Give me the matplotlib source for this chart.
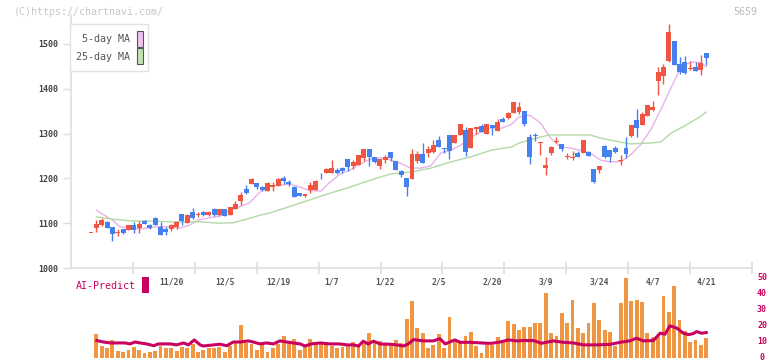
import matplotlib
matplotlib.use("Agg")
import matplotlib.pyplot as plt
from matplotlib.patches import Rectangle
import numpy as np

# ---------------- data ----------------
opens = [1079,1090,1096,1103,1091,1079,1087,1085,1096,1090,
         1105,1097,1112,1091,1087,1088,1091,1120,1101,1124,
         1119,1126,1118,1132,1118,1132,1118,1132,1149,1176,
         1187,1190,1181,1172,1181,1183,1201,1192,1181,1167,
         1161,1174,1174,1204,1212,1212,1219,1223,1243,1228,
         1230,1246,1266,1248,1228,1241,1259,1239,1217,1201,
         1199,1239,1255,1257,1259,1286,1268,1297,1279,1297,
         1308,1268,1310,1317,1299,1319,1306,1333,1335,1346,
         1348,1350,1292,1296,1280,1223,1257,1282,1277,1247,
         1245,1257,1257,1259,1221,1219,1272,1263,1268,1238,
         1268,1295,1330,1319,1339,1353,1417,1429,1462,1507,
         1455,1460,1445,1449,1442,1480]
highs = [1080,1107,1112,1105,1091,1086,1088,1096,1102,1105,
         1107,1098,1114,1103,1091,1098,1104,1121,1120,1133,
         1124,1127,1128,1134,1132,1132,1136,1149,1169,1186,
         1200,1190,1183,1192,1192,1200,1206,1196,1183,1167,
         1165,1192,1197,1212,1224,1241,1223,1226,1243,1241,
         1252,1266,1266,1248,1243,1252,1259,1239,1219,1201,
         1266,1261,1279,1272,1286,1295,1268,1297,1297,1322,
         1315,1313,1315,1321,1322,1319,1333,1337,1349,1371,
         1371,1350,1299,1301,1282,1248,1273,1292,1277,1257,
         1261,1261,1286,1261,1221,1228,1274,1263,1272,1252,
         1292,1319,1355,1348,1364,1373,1449,1456,1545,1507,
         1471,1473,1462,1460,1475,1480]
lows = [1080,1080,1094,1090,1061,1071,1075,1085,1079,1079,
        1098,1087,1095,1074,1074,1083,1088,1097,1101,1110,
        1113,1115,1115,1117,1117,1116,1118,1132,1141,1165,
        1187,1177,1171,1172,1172,1183,1187,1183,1158,1161,
        1158,1167,1174,1199,1212,1212,1210,1212,1217,1221,
        1230,1239,1228,1234,1221,1235,1239,1219,1203,1161,
        1199,1234,1234,1248,1257,1270,1257,1243,1279,1297,
        1250,1268,1299,1304,1299,1297,1306,1326,1333,1346,
        1343,1317,1232,1283,1252,1208,1252,1279,1261,1243,
        1241,1248,1257,1250,1190,1212,1246,1237,1257,1230,
        1246,1292,1292,1319,1339,1350,1386,1410,1460,1453,
        1433,1433,1443,1440,1431,1453]
closes = [1081,1098,1107,1090,1076,1081,1078,1095,1085,1098,
          1098,1090,1095,1074,1080,1097,1103,1105,1119,1112,
          1121,1118,1126,1118,1132,1117,1136,1143,1163,1167,
          1199,1181,1174,1190,1185,1199,1194,1187,1158,1161,
          1165,1185,1194,1202,1221,1223,1212,1217,1225,1237,
          1252,1266,1248,1237,1243,1248,1246,1219,1208,1181,
          1255,1255,1234,1266,1275,1270,1266,1261,1297,1322,
          1259,1313,1315,1304,1322,1312,1326,1326,1346,1371,
          1359,1321,1248,1294,1282,1230,1270,1284,1266,1249,
          1247,1248,1286,1250,1192,1228,1248,1248,1259,1240,
          1255,1319,1313,1344,1364,1359,1437,1449,1527,1453,
          1437,1435,1447,1440,1458,1469]

ma5_idx = [1,4,5.4,9,13,16.6,18.5,20,24,26,28,29.7,31.6,33.5,35.4,37.3,39,41,43,44.7,
           46.6,48.5,50.3,52.2,54,56,57.8,59.7,61.6,63.5,65.4,67.3,69.2,71,73,74.8,76.7,
           78.5,80,82,84,85.8,87.7,89.5,91.4,93.3,95.2,97,99,100.8,102.7,104.6,106.5,
           108.4,110.3,112.2,114,115]
ma5_val = [1129,1107,1092,1087,1093,1089,1096,1107,1116,1129,1138,1146,1170,1183,1185,1187,
           1181,1172,1172,1192,1210,1219,1232,1243,1246,1241,1234,1223,1223,1228,1257,1263,
           1275,1292,1304,1313,1312,1320,1337,1341,1324,1292,1270,1268,1263,1257,1241,1237,
           1237,1252,1275,1308,1353,1402,1449,1460,1458,1449]

ma25_idx = [1,4,7.5,11,15,20.4,24,26.6,29.7,31.6,33.5,37.3,40.9,44.7,48.5,52.2,56,59.7,
            63.5,67.3,71,74.8,78.6,80,83.9,85.8,93.3,95.2,98.9,100.8,104.6,106.5,108.4,
            110.3,112.2,114,115]
ma25_val = [1114,1109,1105,1105,1103,1103,1100,1101,1111,1118,1123,1138,1152,1167,1181,1196,
            1210,1214,1223,1237,1248,1263,1270,1279,1292,1297,1297,1290,1281,1277,1279,1281,
            1301,1313,1326,1339,1348]

volume = [0,15.3,7.5,6.3,11.3,4.6,3.8,5,6.9,5,
          3.1,3.8,4.4,7.5,6.3,6.3,4.4,6.9,6.3,8.8,
          3.8,5,6.3,6.3,6.9,3.8,7.5,9.4,20.8,9.4,
          8.8,5,8.1,3.8,6.3,8.8,13.8,10,11.9,5,
          7.5,11.9,9.4,8.8,8.8,7.5,6.3,6.9,8.8,10,
          6.9,10.7,15.9,10.7,10.7,8.8,8.8,11.3,9.4,24.5,
          35.8,18.9,15.7,6.3,8.2,15.1,6.3,25.8,11.3,9.4,
          13.8,16.4,7.5,3.1,8.2,8.2,13.2,11.3,23.3,21.4,
          17.6,19.5,19.5,22,22,40.9,15.7,13.8,28.3,22,
          36.5,18.9,15.7,22,34.6,23.9,17.6,16.4,7.5,34.6,
          49.7,35.8,36.5,35.2,15.7,13.2,13.2,39,28.9,44.7,
          23.9,17,10,11.3,8.2,12.6]

ai_idx = [1.1,2.3,3.6,6.4,7.3,8.2,9.2,10.4,11.7,12.6,14.8,16,17.3,18.2,19.3,20.4,21,22.9,
          24.1,25.4,26.6,27.9,29.4,30.3,31.6,32.8,34.1,35.3,36.6,37.8,39.1,40,41.2,42.8,
          44.7,46.5,47.8,49,50,50.9,51.8,52.8,54,55.9,57.1,58.4,59.3,60.3,62.1,64,65.2,
          66.2,68,69,70.8,72.1,74,74.9,76.5,78,79.6,80.8,82.7,84.2,86.4,88.3,90.2,92,
          94.5,97,98.9,100.7,102,103.2,105.1,106.4,107.3,108.2,109.5,110.7,111.7,112.6,
          113.2,114.1,115]
ai_val = [10.9,10,9.4,9.4,8.8,10,9.4,8.8,7.7,8.8,8.8,8.2,9.4,8.2,11.3,8.2,7.5,8.2,
          8.6,7.7,10,10,10.7,10,8.8,9.4,8.8,10.7,10,9.4,8.8,7.5,8.8,9.4,
          8.8,8.8,8.2,8.2,7.5,10.5,8.8,10.5,8.8,8.6,8.2,7.5,8.8,11.5,10.7,10.7,12.1,
          8.8,11.3,9.8,9.8,9.6,9.2,9.2,10,11.3,10.7,10.9,10.9,9.2,10.7,9.8,9.4,8.2,
          8.2,8.5,9.8,10.7,12.4,10.7,10.9,15.5,14.9,20.1,18.7,15.5,14.6,15.3,
          16.5,15.5,15.9]

date_idx = [15,25,35,45,55,65,75,85,95,105,115]
date_labels = ["11/20","12/5","12/19","1/7","1/22","2/5","2/20","3/9","3/24","4/7","4/21"]
price_ticks = [1000,1100,1200,1300,1400,1500]
vol_ticks = [0,10,20,30,40,50]

# ---------------- style ----------------
W, H = 772, 361
UP = "#f05541"
DOWN = "#4581ee"
GRID = "#dedede"
MAG = "#c8005f"
MONO = "DejaVu Sans Mono"

fig = plt.figure(figsize=(W/100, H/100), dpi=100)
fig.patch.set_facecolor("white")

def fx(px): return px / W
def fy(py): return 1 - py / H

ax = fig.add_axes([fx(71), fy(268), fx(752) - fx(71), fy(15) - fy(268)])
n = len(closes)
x = np.arange(n)
ax.set_xlim(-3.74, 123.55)
ax.set_ylim(1000, 1564.7)

# candles
for i in range(n):
    o, h, l, c = opens[i], highs[i], lows[i], closes[i]
    col = UP if c >= o else DOWN
    ax.vlines(x[i], l, h, color=col, linewidth=1.0, zorder=3)
    b = min(o, c)
    hh = max(abs(c - o), 1.8)
    ax.bar(x[i], hh, bottom=b, width=0.92, color=col, linewidth=0, zorder=4)

ax.plot(ma5_idx, ma5_val, color="#e8b2ea", linewidth=1.0, zorder=2)
ax.plot(ma25_idx, ma25_val, color="#b3d9a6", linewidth=1.0, zorder=2)

for s in ["top", "right"]:
    ax.spines[s].set_visible(False)
for s in ["left", "bottom"]:
    ax.spines[s].set_color(GRID)
    ax.spines[s].set_linewidth(1.2)
ax.set_yticks(price_ticks)
ax.set_yticklabels([str(t) for t in price_ticks], fontfamily=MONO, fontsize=6,
                   color="#444444", fontweight="bold")
ax.tick_params(axis="y", length=6, width=1, color=GRID, pad=3)
xt = np.linspace(-3.74, 123.55, 12)[1:]
ax.set_xticks(xt)
ax.set_xticklabels([])
ax.tick_params(axis="x", length=8, width=1.2, color=GRID, direction="inout")
ax.set_facecolor("none")

# legend box
fig.patches.append(Rectangle((fx(70), fy(71)), fx(78), fy(24) - fy(71),
                             transform=fig.transFigure, facecolor="white",
                             edgecolor="#e2e2e2", linewidth=1.0, zorder=10))
fig.text(fx(130), fy(39), "5-day MA", ha="right", va="center", fontfamily=MONO,
         fontsize=7.2, color="#555555", zorder=11)
fig.text(fx(130), fy(57), "25-day MA", ha="right", va="center", fontfamily=MONO,
         fontsize=7.2, color="#555555", zorder=11)
fig.patches.append(Rectangle((fx(136.5), fy(46.5)), fx(6), fy(31) - fy(46.5),
                             transform=fig.transFigure, facecolor="#f0c2f0",
                             edgecolor="#555555", linewidth=0.8, zorder=11))
fig.patches.append(Rectangle((fx(136.5), fy(63.5)), fx(6), fy(48) - fy(63.5),
                             transform=fig.transFigure, facecolor="#c2e2b4",
                             edgecolor="#555555", linewidth=0.8, zorder=11))

# watermark texts
fig.text(fx(14), fy(12), "(C)https://chartnavi.com/", ha="left", va="center",
         fontfamily=MONO, fontsize=7.2, color="#c8c8c8")
fig.text(fx(757), fy(12), "5659", ha="right", va="center",
         fontfamily=MONO, fontsize=7.2, color="#bbbbbb")

# date labels
for di, lab in zip(date_idx, date_labels):
    px = 91 + 5.35 * di
    fig.text(fx(px), fy(282), lab, ha="center", va="center", fontfamily=MONO,
             fontsize=5.8, color="#555555", fontweight="bold")

# volume panel
av = fig.add_axes([fx(71), fy(358), fx(752) - fx(71), fy(278) - fy(358)])
av.set_xlim(-3.74, 123.55)
av.set_ylim(0, 50)
av.bar(x, volume, width=0.72, color="#f09640", linewidth=0, zorder=2)
av.plot(ai_idx, ai_val, color=MAG, linewidth=2.2, zorder=3,
        marker="s", markersize=1.8, markeredgewidth=0)
for s in av.spines.values():
    s.set_visible(False)
av.set_xticks([])
av.set_yticks([])
av.set_facecolor("none")
for t in vol_ticks:
    yy = 358 - 1.6 * t
    fig.text(fx(762), fy(yy), str(t), ha="center", va="center", fontfamily=MONO,
             fontsize=6, color=MAG, fontweight="bold")

fig.text(fx(76), fy(286), "AI-Predict", ha="left", va="center", fontfamily=MONO,
         fontsize=7.2, color=MAG)
fig.patches.append(Rectangle((fx(142), fy(293)), fx(7), fy(277) - fy(293),
                             transform=fig.transFigure, facecolor=MAG,
                             edgecolor="none"))

fig.savefig("out.png", dpi=100, facecolor="white")
